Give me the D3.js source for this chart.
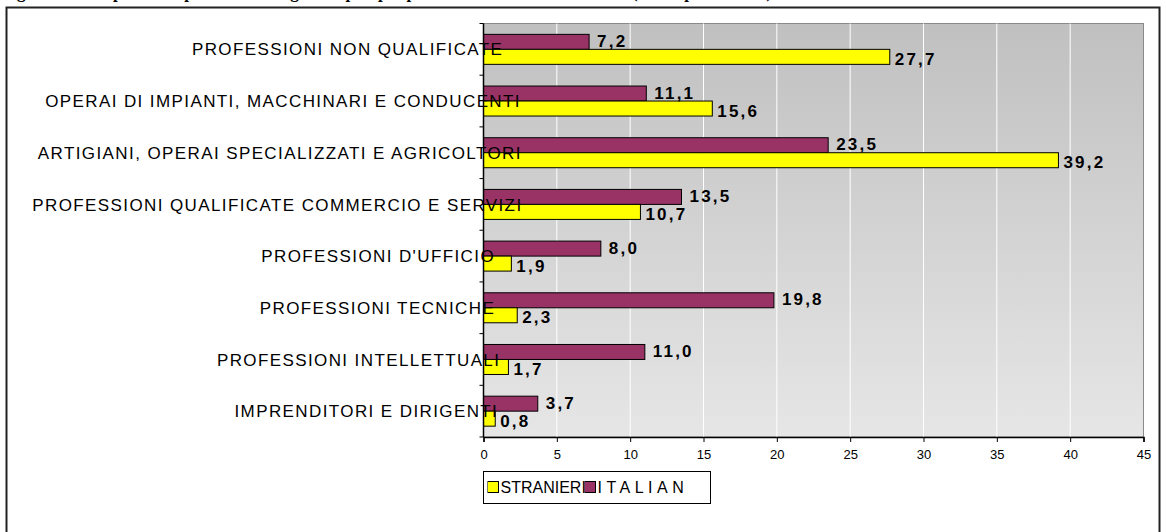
<!DOCTYPE html>
<html>
<head>
<meta charset="utf-8">
<script src="https://cdn.jsdelivr.net/npm/d3@7"></script>
<style>
  body { margin: 0; background: #fff; }
  svg { display: block; }
</style>
</head>
<body>
<div id="chart"></div>
<script>
// data (top to bottom)
var categories = [
  "PROFESSIONI NON QUALIFICATE",
  "OPERAI DI IMPIANTI, MACCHINARI E CONDUCENTI",
  "ARTIGIANI, OPERAI SPECIALIZZATI E AGRICOLTORI",
  "PROFESSIONI QUALIFICATE COMMERCIO E SERVIZI",
  "PROFESSIONI D'UFFICIO",
  "PROFESSIONI TECNICHE",
  "PROFESSIONI INTELLETTUALI",
  "IMPRENDITORI E DIRIGENTI"
];
var italiani = [7.2, 11.1, 23.5, 13.5, 8.0, 19.8, 11.0, 3.7];
var stranieri = [27.7, 15.6, 39.2, 10.7, 1.9, 2.3, 1.7, 0.8];
var seriesNames = ["STRANIERI", "ITALIANI"];
var xTicks = [0, 5, 10, 15, 20, 25, 30, 35, 40, 45];
var title = "Figura 4 - Composizione percentuale degli occupati per professione: stranieri e italiani (valori percentuali)";

var W = 1166, H = 532;
var margin = { top: 23.5, left: 483.5, right: 22.5, bottom: 95 };
var width = W - margin.left - margin.right,
  height = H - margin.top - margin.bottom;

var svg = d3.select("#chart").append("svg")
  .attr("width", W).attr("height", H)
  .style("font-family", "Arial, 'Liberation Sans', sans-serif");

// title, cut off by the top edge as in the original (only descenders show)
svg.append("text")
  .attr("x", 2).attr("y", -2)
  .attr("font-family", "'Liberation Serif', 'Times New Roman', serif")
  .attr("font-weight", "bold")
  .attr("font-size", 17)
  .text(title);

// outer frame
svg.append("rect")
  .attr("x", 6.5).attr("y", 7.5)
  .attr("width", 1153).attr("height", 540)
  .attr("fill", "none")
  .attr("stroke", "#222")
  .attr("stroke-width", 2);

var defs = svg.append("defs");
var grad = defs.append("linearGradient")
  .attr("id", "bg").attr("x1", 0).attr("y1", 0).attr("x2", 0).attr("y2", 1);
grad.append("stop").attr("offset", "0%").attr("stop-color", "#c0c0c0");
grad.append("stop").attr("offset", "100%").attr("stop-color", "#e6e6e6");

var g = svg.append("g")
  .attr("transform", "translate(" + margin.left + "," + margin.top + ")");

var x = d3.scaleLinear().domain([0, 45]).range([0, width]);
var y = d3.scaleBand().domain(categories).range([0, height]);
var barH = 15;

// plot background
g.append("rect")
  .attr("width", width).attr("height", height)
  .attr("fill", "url(#bg)")
  .attr("stroke", "#8a8a8a").attr("stroke-width", 1);

// vertical gridlines
g.selectAll(".grid")
  .data(xTicks.slice(1, -1))
  .enter().append("line")
  .attr("x1", d => x(d)).attr("x2", d => x(d))
  .attr("y1", 0).attr("y2", height)
  .attr("stroke", "#fff").attr("stroke-width", 1);

// bars: italiani above, stranieri below
g.selectAll(".bar-ita")
  .data(categories)
  .enter().append("rect")
  .attr("x", 0)
  .attr("y", d => y(d) + y.bandwidth() / 2 - barH)
  .attr("width", (d, i) => x(italiani[i]))
  .attr("height", barH)
  .attr("fill", "#993366")
  .attr("stroke", "#000").attr("stroke-width", 1);

g.selectAll(".bar-str")
  .data(categories)
  .enter().append("rect")
  .attr("x", 0)
  .attr("y", d => y(d) + y.bandwidth() / 2)
  .attr("width", (d, i) => x(stranieri[i]))
  .attr("height", barH)
  .attr("fill", "#ffff00")
  .attr("stroke", "#000").attr("stroke-width", 1);

// axes
var xAxis = g.append("g")
  .attr("transform", "translate(0," + height + ")")
  .call(d3.axisBottom(x).tickValues(xTicks).tickSize(5).tickPadding(8));
xAxis.select(".domain").attr("stroke", "#000").attr("stroke-width", 1.5);
xAxis.selectAll("text").attr("font-size", 13).attr("fill", "#000")
  .attr("font-family", "Arial, 'Liberation Sans', sans-serif");

var yAxis = g.append("g");
yAxis.append("line")
  .attr("x1", 0).attr("x2", 0).attr("y1", 0).attr("y2", height)
  .attr("stroke", "#000").attr("stroke-width", 1.5);
yAxis.selectAll(".ytick")
  .data(d3.range(categories.length + 1))
  .enter().append("line")
  .attr("x1", -4).attr("x2", 0)
  .attr("y1", i => i * y.step()).attr("y2", i => i * y.step())
  .attr("stroke", "#000");

// category labels (spill over the axis like in the original)
var catLabels = svg.selectAll(".cat")
  .data(categories)
  .enter().append("text")
  .attr("y", d => margin.top + y(d) + y.bandwidth() / 2)
  .attr("dy", "0.36em")
  .attr("font-size", 17)
  .attr("letter-spacing", "1.4px")
  .attr("fill", "#000")
  .text(d => d);
catLabels.each(function() {
  var len = this.getComputedTextLength();
  d3.select(this).attr("x", 470 - len / 1.12);
});

// value labels
var fmt = v => v.toFixed(1).replace(".", ",");
g.selectAll(".lab-ita")
  .data(categories)
  .enter().append("text")
  .attr("x", (d, i) => x(italiani[i]) + 8)
  .attr("y", d => y(d) + y.bandwidth() / 2 - barH / 2 - 1)
  .attr("dy", "0.36em")
  .attr("font-size", 17).attr("font-weight", "bold")
  .attr("letter-spacing", "2.2px")
  .text((d, i) => fmt(italiani[i]));

g.selectAll(".lab-str")
  .data(categories)
  .enter().append("text")
  .attr("x", (d, i) => x(stranieri[i]) + 5)
  .attr("y", d => y(d) + y.bandwidth() / 2 + barH / 2 + 2)
  .attr("dy", "0.36em")
  .attr("font-size", 17).attr("font-weight", "bold")
  .attr("letter-spacing", "2.2px")
  .text((d, i) => fmt(stranieri[i]));

// legend (names clipped by the narrow box, as in the original)
var legend = svg.append("g").attr("transform", "translate(483.5,471.5)");
legend.append("rect")
  .attr("width", 227).attr("height", 32)
  .attr("fill", "#fff").attr("stroke", "#000");
var legendColors = ["#ffff00", "#993366"];
var cellX = [4, 101], cellW = [97, 104];
var legendSpacing = [0, 4.5];
seriesNames.forEach(function(name, i) {
  defs.append("clipPath").attr("id", "lc" + i)
    .append("rect").attr("x", cellX[i]).attr("y", 0)
    .attr("width", cellW[i]).attr("height", 32);
  var item = legend.append("g").attr("clip-path", "url(#lc" + i + ")");
  item.append("rect")
    .attr("x", cellX[i]).attr("y", 10)
    .attr("width", 11).attr("height", 11)
    .attr("fill", legendColors[i]).attr("stroke", "#000");
  item.append("text")
    .attr("x", cellX[i] + 13).attr("y", 16)
    .attr("dy", "0.36em")
    .attr("font-size", 16)
    .attr("letter-spacing", legendSpacing[i] + "px")
    .text(name);
});
</script>
</body>
</html>
